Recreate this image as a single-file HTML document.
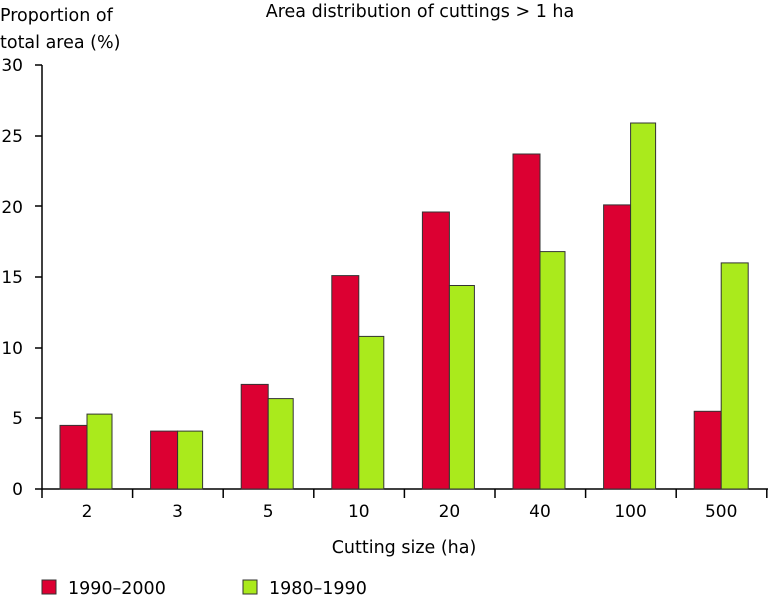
<!DOCTYPE html>
<html><head><style>body{margin:0;background:#fff}svg{display:block}text{font-family:"DejaVu Sans","Liberation Sans",sans-serif;fill:#000}</style></head><body>
<svg width="768" height="597" xmlns="http://www.w3.org/2000/svg">
<text x="0" y="21" font-size="17.5">Proportion of</text>
<text x="0" y="48" font-size="17.5">total area (%)</text>
<text x="420" y="17" font-size="17.5" text-anchor="middle">Area distribution of cuttings &gt; 1 ha</text>
<g font-size="17" text-anchor="end">
<text x="23" y="495">0</text><text x="23" y="424">5</text><text x="23" y="354">10</text><text x="23" y="283">15</text><text x="23" y="213">20</text><text x="23" y="142">25</text><text x="23" y="71">30</text>
</g>
<g stroke="#000" stroke-width="1.5">
<line x1="42" y1="65" x2="42" y2="498"/>
<line x1="35" y1="489" x2="768" y2="489"/>
<line x1="35" y1="65" x2="42" y2="65"/><line x1="35" y1="136" x2="42" y2="136"/><line x1="35" y1="206" x2="42" y2="206"/><line x1="35" y1="277" x2="42" y2="277"/><line x1="35" y1="348" x2="42" y2="348"/><line x1="35" y1="418" x2="42" y2="418"/>
<line x1="132.6" y1="489" x2="132.6" y2="498"/><line x1="223.2" y1="489" x2="223.2" y2="498"/><line x1="313.8" y1="489" x2="313.8" y2="498"/><line x1="404.4" y1="489" x2="404.4" y2="498"/><line x1="495" y1="489" x2="495" y2="498"/><line x1="585.6" y1="489" x2="585.6" y2="498"/><line x1="676.2" y1="489" x2="676.2" y2="498"/><line x1="766.8" y1="489" x2="766.8" y2="498"/>
</g>
<g stroke="#333" stroke-width="1">
<rect x="60" y="425.4" width="27" height="63.6" fill="#dc0032"/><rect x="87" y="414.1" width="25" height="74.9" fill="#aaea1c"/>
<rect x="150.6" y="431.1" width="27" height="57.9" fill="#dc0032"/><rect x="177.6" y="431.1" width="25" height="57.9" fill="#aaea1c"/>
<rect x="241.2" y="384.4" width="27" height="104.6" fill="#dc0032"/><rect x="268.2" y="398.6" width="25" height="90.4" fill="#aaea1c"/>
<rect x="331.8" y="275.6" width="27" height="213.4" fill="#dc0032"/><rect x="358.8" y="336.4" width="25" height="152.6" fill="#aaea1c"/>
<rect x="422.4" y="212" width="27" height="277" fill="#dc0032"/><rect x="449.4" y="285.5" width="25" height="203.5" fill="#aaea1c"/>
<rect x="513" y="154" width="27" height="335" fill="#dc0032"/><rect x="540" y="251.6" width="25" height="237.4" fill="#aaea1c"/>
<rect x="603.6" y="204.9" width="27" height="284.1" fill="#dc0032"/><rect x="630.6" y="123" width="25" height="366" fill="#aaea1c"/>
<rect x="694.2" y="411.3" width="27" height="77.7" fill="#dc0032"/><rect x="721.2" y="262.9" width="27" height="226.1" fill="#aaea1c"/>
</g>
<g font-size="17" text-anchor="middle">
<text x="87" y="517">2</text><text x="177.6" y="517">3</text><text x="268.2" y="517">5</text><text x="358.8" y="517">10</text><text x="449.4" y="517">20</text><text x="540" y="517">40</text><text x="630.6" y="517">100</text><text x="721.2" y="517">500</text>
<text x="404" y="553" font-size="17.5">Cutting size (ha)</text>
</g>
<rect x="42" y="580" width="14" height="14" fill="#dc0032" stroke="#333"/>
<text x="68" y="594" font-size="17.5">1990–2000</text>
<rect x="243" y="580" width="14" height="14" fill="#aaea1c" stroke="#333"/>
<text x="269" y="594" font-size="17.5">1980–1990</text>
</svg>
</body></html>
